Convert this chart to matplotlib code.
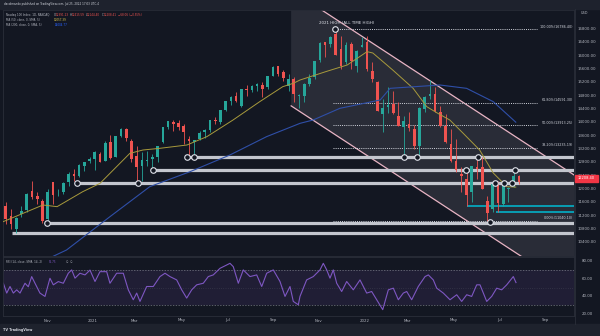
import matplotlib
matplotlib.use("Agg")
import matplotlib.pyplot as plt
import matplotlib.transforms as mtransforms
from matplotlib.patches import Rectangle, Polygon

# weekly candles, week 0 = week of Jan 4 2021
weeks = list(range(-18, 82))
opens = [12150, 11500, 11200, 10800, 11250, 11380, 11950, 11800, 11650, 11100,
         12200, 11850, 11900, 12200, 12450, 12400, 12700, 12830, 12900, 13050,
         12850, 13400, 12950, 13600, 13810, 13450, 13000, 12700, 12850, 12900,
         12950, 13400, 13850, 14000, 13990, 13900, 13500, 13400, 13500, 13720,
         13780, 14080, 14000, 14380, 14650, 14780, 14500, 15010, 14980, 15090,
         15130, 15050, 15400, 15680, 15500, 15100, 15300, 14800, 14780, 15150,
         15350, 15870, 16400, 16350, 16650, 16200, 15800, 16350, 15700, 16250,
         16400, 15550, 15200, 14250, 14450, 14550, 14200, 13850, 13950, 13800,
         13300, 14400, 14780, 14850, 14300, 13900, 13350, 12850, 12450, 12300,
         11900, 12650, 12650, 11650, 11400, 12150, 11550, 12000, 12150, 12391.23]
highs = [12440, 11600, 11400, 11150, 11500, 11880, 12250, 11920, 11700, 12000,
         12200, 12000, 12200, 12500, 12600, 12750, 12820, 12960, 13150, 13100,
         13450, 13620, 13600, 13830, 13820, 13500, 13300, 13100, 13150, 13050,
         13300, 13850, 14050, 14080, 14070, 13950, 13600, 13480, 13750, 13800,
         14070, 14170, 14380, 14650, 14780, 14900, 15000, 15110, 15130, 15190,
         15200, 15380, 15700, 15700, 15560, 15450, 15350, 14850, 15170, 15450,
         15850, 16420, 16420, 16600, 16786, 16600, 16400, 16400, 16160, 16570,
         16580, 15800, 15250, 14700, 15060, 14950, 14600, 14200, 14300, 13920,
         14450, 14800, 15270, 15050, 14500, 14250, 13800, 13500, 12650, 12580,
         12700, 12960, 12950, 11800, 12200, 12250, 12150, 12050, 12570, 12415.59]
lows = [11500, 10950, 10800, 10680, 11170, 11300, 11700, 11550, 10970, 11050,
        11550, 11780, 11850, 12100, 12250, 12370, 12550, 12780, 12570, 12800,
        12850, 12900, 12950, 13550, 13450, 12800, 12190, 12250, 12700, 12600,
        12800, 13380, 13800, 13750, 13780, 13350, 12970, 13050, 13480, 13520,
        13720, 13950, 13950, 14350, 14520, 14600, 14450, 14800, 14900, 14950,
        14760, 15000, 15380, 15400, 15250, 14950, 14600, 14440, 14600, 15100,
        15300, 15800, 15950, 16250, 16030, 15600, 15750, 15600, 15520, 16250,
        15550, 15200, 14340, 13720, 14280, 14250, 13880, 12990, 13730, 13200,
        12990, 14300, 14700, 14300, 13850, 13380, 12800, 12500, 11900, 11500,
        11600, 12300, 12000, 11040, 11300, 11300, 11480, 11600, 12050, 12144.40]
closes = [11620, 11090, 10940, 11140, 11330, 11850, 11760, 11700, 11050, 11900,
          11830, 11860, 12180, 12460, 12380, 12720, 12800, 12890, 13100, 12800,
          13370, 12930, 13580, 13800, 13520, 12910, 12670, 12870, 12850, 12950,
          13280, 13850, 14040, 13960, 13860, 13720, 13430, 13470, 13690, 13770,
          14070, 14030, 14360, 14640, 14760, 14650, 15000, 14960, 15100, 15150,
          15000, 15380, 15650, 15460, 15330, 15300, 14850, 14800, 15150, 15330,
          15850, 16390, 16330, 16570, 16030, 15700, 16330, 15850, 16150, 16320,
          15590, 15310, 14340, 14440, 14520, 14270, 13900, 14040, 13840, 13300,
          14420, 14760, 14860, 14350, 13900, 13400, 12850, 12580, 12400, 11830,
          12680, 12600, 12010, 11270, 12140, 11580, 12130, 12040, 12400, 12208.41]

# moving averages (week, value)
ma50_w = [-17.1, -9.5, -6.8, -1.9, 1.4, 7.1, 9.6, 12.8, 18.0, 21.8, 26.8, 31.9, 36.3,
          38.3, 39.6, 44.7, 48.6, 52.4, 53.5, 57.3, 61.2, 63.8, 65.8, 68.2, 70.7,
          73.9, 76.5, 79.1, 80.8]
ma50_v = [11020, 11520, 11470, 11920, 12170, 13070, 13170, 13220, 13320, 13570, 14070,
          14620, 15070, 15170, 15270, 15530, 15720, 16120, 16080, 15570, 15020, 14470,
          14280, 14070, 13680, 13170, 12480, 12070, 12057.39]
ma200_w = [-17.1, -10.0, -5.0, 3.3, 10.9, 18.6, 26.2, 33.2, 39.6, 42.1, 47.2, 54.9,
           56.8, 66.3, 71.4, 76.5, 80.8]
ma200_v = [9500, 9800, 10170, 11170, 12070, 12520, 13020, 13570, 13970, 14070, 14420,
           14670, 15020, 15120, 15020, 14620, 14004.77]

# RSI (14)
rsi_w = [-17.07, -16.42, -15.79, -15.16, -14.51, -13.88, -12.93, -12.30, -11.65, -11.02,
         -10.07, -9.11, -8.16, -7.52, -6.57, -5.61, -4.66, -4.01, -3.38, -2.43,
         -1.47, -0.52, 0.44, 1.39, 2.67, 3.30, 4.58, 5.84, 6.80, 7.75,
         8.40, 9.03, 10.31, 11.57, 12.85, 13.81, 14.76, 16.04, 17.00, 17.95,
         18.91, 19.86, 21.12, 22.08, 23.03, 24.31, 25.59, 26.22, 26.85, 27.81,
         28.76, 30.04, 31.32, 32.28, 33.23, 34.49, 35.77, 36.73, 37.68, 38.31,
         39.27, 39.59, 40.86, 42.13, 43.41, 44.04, 44.69, 45.32, 45.95, 46.60,
         47.55, 48.51, 49.77, 51.05, 52.33, 53.28, 54.24, 55.39, 56.46, 57.41,
         58.37, 59.32, 59.97, 60.92, 62.18, 63.47, 64.10, 65.05, 65.70, 66.96,
         68.24, 69.52, 70.47, 71.43, 72.38, 73.34, 73.97, 75.25, 76.20, 77.16,
         78.11, 79.07, 80.33, 80.84]
rsi_v = [55.1, 43.8, 51.3, 43.8, 47.5, 43.8, 55.0, 51.0, 62.6, 55.0,
         43.8, 40.0, 60.7, 53.2, 56.9, 55.0, 66.4, 70.2, 60.8, 66.4,
         64.5, 70.0, 57.0, 68.2, 68.2, 55.0, 66.4, 66.4, 47.5, 36.2,
         43.8, 34.3, 51.3, 51.3, 62.6, 66.4, 62.6, 58.8, 47.5, 38.1,
         47.5, 53.2, 55.0, 62.6, 64.5, 72.0, 75.8, 77.7, 73.9, 55.0,
         70.2, 62.6, 64.5, 51.3, 66.4, 70.2, 57.0, 40.0, 51.3, 34.3,
         30.5, 40.0, 58.8, 62.6, 70.2, 77.7, 70.2, 60.8, 70.2, 55.0,
         45.6, 57.0, 47.5, 58.8, 43.8, 45.6, 36.2, 24.9, 47.5, 49.4,
         36.2, 43.8, 45.6, 36.2, 51.3, 62.6, 64.5, 58.8, 49.4, 43.8,
         36.2, 41.9, 34.3, 41.9, 40.0, 53.2, 53.2, 34.3, 40.0, 49.4,
         47.5, 53.2, 62.6, 55.75]

# drawings
support_levels = [12970, 12570, 12190, 10970, 10680]
support_start = [18.1, 11.5, -3.0, -8.7, -15.4]
fib_levels = [16786.40, 14591.30, 13913.25, 13235.19, 11040.10]
fib_names = ["100.00%", "61.80%", "50.00%", "38.20%", "0.00%"]
circle_w = [-8.7, -3.0, 8.6, 11.5, 18.1, 19.3, 59.5, 62.0, 73.6, 71.3, 80.6,
            76.8, 78.5, 80.1, 75.9, 46.3]
circle_v = [10970, 12190, 12190, 12570, 12970, 12970, 12970, 12970, 12970, 12570,
            12570, 12190, 12190, 12190, 11000, 16786.40]
month_w = [-8.7, 0, 7.9, 17.0, 25.7, 34.5, 43.2, 52.0, 60.1, 69.0, 77.7, 86.5]
month_names = ["Nov", "2021", "Mar", "May", "Jul", "Sep", "Nov", "2022", "Mar",
               "May", "Jul", "Sep"]

BG = "#131722"
BAR = "#1e222d"
TXT = "#b2b5be"
UP = "#26a69a"
DN = "#ef5350"

fig = plt.figure(figsize=(6, 3.36), dpi=100)
fig.patch.set_facecolor(BG)


def fx(px):
    return px / 600


def fy(py):
    return 1 - py / 336


fig.patches.append(Rectangle((0, fy(9)), 1, 9 / 336, transform=fig.transFigure,
                             color=BAR, zorder=0))
fig.patches.append(Rectangle((0, 0), 1, 12 / 336, transform=fig.transFigure,
                             color=BAR, zorder=0))

ax = fig.add_axes([fx(3), fy(256), 571 / 600, 246 / 336])
rax = fig.add_axes([fx(3), fy(316), 571 / 600, 59 / 336])
XMIN, XMAX = -17.13, 91.92
for a in (ax, rax):
    a.set_facecolor(BG)
    a.set_xlim(XMIN, XMAX)
    a.set_xticks([])
    a.set_yticks([])
    for s in a.spines.values():
        s.set_color("#2a2e39")
        s.set_linewidth(0.6)
ax.set_ylim(9990, 17370)
rax.set_ylim(17.7, 84.9)

# channel
ch_x = [37.9, 37.9, 95, 95]
ch_y = [17970, 14494, 8630, 12106]
ax.add_patch(Polygon(list(zip(ch_x, ch_y)), closed=True, facecolor="#787b86",
                     alpha=0.22, edgecolor="none", zorder=1))
ax.plot([37.9, 95], [17970, 12106], color="#e8b4c4", lw=0.9, zorder=2)
ax.plot([37.9, 95], [14494, 8630], color="#e8b4c4", lw=0.9, zorder=2)

# support lines
ax.hlines(support_levels, support_start, XMAX, colors="#c3c6ce", lw=2.3, zorder=3)
ax.hlines([11490, 11300], [71.5, 77.0], XMAX, colors="#00bcd4", lw=1.1, zorder=3)

# fib retracement
ax.hlines(fib_levels, 45.9, 84.9, colors="#d1d4dc", lw=0.7, linestyles=(0, (1, 1.2)),
          zorder=3)
for lv, nm in zip(fib_levels, fib_names):
    ax.text(91.7, lv + 80, "%s(%.2f)" % (nm, lv), color="#d1d4dc", fontsize=2.4,
            ha="right", va="center", zorder=6)

# candles
for w, o, h, l, c in zip(weeks, opens, highs, lows, closes):
    col = UP if c >= o else DN
    x = w + 0.4
    ax.vlines(x, l, h, colors=col, lw=0.6, zorder=4)
    ax.add_patch(Rectangle((x - 0.25, min(o, c)), 0.5, max(abs(c - o), 15),
                           facecolor=col, edgecolor="none", zorder=4))

ax.plot(ma50_w, ma50_v, color="#a89a3c", lw=0.7, zorder=5)
ax.plot(ma200_w, ma200_v, color="#2f4fa8", lw=0.8, zorder=5)

ax.plot(circle_w, circle_v, "o", ms=4.0, mfc=BG, mec="#e0e3eb", mew=0.8, zorder=7)
ax.text(48.6, 16990, "2021 HIGH (ALL TIME HIGH)", color="#e0e3eb", fontsize=2.9,
        ha="center", va="center", zorder=7)

# RSI pane
rax.axhspan(30, 70, color="#7e57c2", alpha=0.12, lw=0)
rax.axhline(70, color="#787b86", lw=0.5, ls=(0, (2, 2)))
rax.axhline(30, color="#787b86", lw=0.5, ls=(0, (2, 2)))
rax.axhline(50, color="#787b86", lw=0.4, ls=(0, (1, 3)), alpha=0.6)
rax.plot(rsi_w, rsi_v, color="#7e57c2", lw=0.8)

# price scale
ptr = mtransforms.blended_transform_factory(fig.transFigure, ax.transData)
for p in range(10400, 17000, 400):
    ax.text(fx(587), p, "%.2f" % p, transform=ptr, color=TXT, fontsize=2.8,
            ha="center", va="center", clip_on=False)
fig.text(fx(581), fy(13), "USD", color=TXT, fontsize=2.5, ha="left", va="center")
rtr = mtransforms.blended_transform_factory(fig.transFigure, rax.transData)
for p in [80, 60, 40, 20]:
    rax.text(fx(587), p, "%.2f" % p, transform=rtr, color=TXT, fontsize=2.8,
             ha="center", va="center", clip_on=False)
fig.patches.append(Rectangle((fx(575), fy(181.5)), 23 / 600, 6.5 / 336,
                             transform=fig.transFigure, color="#f23645", zorder=5))
fig.text(fx(586.5), fy(178.2), "12208.40", color="white", fontsize=2.6,
         ha="center", va="center", zorder=6)
fig.add_artist(plt.Line2D([fx(574.5), fx(574.5)], [fy(324), fy(9)],
                          transform=fig.transFigure, color="#2a2e39", lw=0.6))

# time scale
ttr = mtransforms.blended_transform_factory(rax.transData, fig.transFigure)
for w, nm in zip(month_w, month_names):
    rax.text(w, fy(320.5), nm, transform=ttr, color=TXT, fontsize=2.8,
             ha="center", va="center", clip_on=False)

# header texts
fig.text(fx(3.5), fy(4.5), "dacolmando published on TradingView.com, Jul 25, 2022 17:03 UTC-4",
         color="#d1d4dc", fontsize=2.0, ha="left", va="center")
fig.text(fx(6.5), fy(14.7), "Nasdaq 100 Index, 1D, NASDAQ", color=TXT, fontsize=2.0,
         ha="left", va="center")
ohlc = [(54.3, "O", "12391.23"), (69.5, "H", "12415.59"), (85.3, "L", "12144.40"),
        (101.7, "C", "12208.41")]
for x, k, v in ohlc:
    fig.text(fx(x), fy(14.7), k, color=TXT, fontsize=2.0, ha="left", va="center")
    fig.text(fx(x + 1.8), fy(14.7), v, color=DN, fontsize=2.0, ha="left", va="center")
fig.text(fx(118.3), fy(14.7), "\u221268.06 (\u22120.55%)", color=DN, fontsize=2.0,
         ha="left", va="center")
fig.text(fx(6.5), fy(19.8), "MA (50, close, 0, SMA, 5)", color=TXT, fontsize=2.0,
         ha="left", va="center")
fig.text(fx(53.3), fy(19.8), "12057.39", color="#d8c24a", fontsize=2.0, ha="left",
         va="center")
fig.text(fx(6.5), fy(25), "MA (200, close, 0, SMA, 5)", color=TXT, fontsize=2.0,
         ha="left", va="center")
fig.text(fx(54.3), fy(25), "14004.77", color="#2962ff", fontsize=2.0, ha="left",
         va="center")
fig.text(fx(6), fy(262), "RSI (14, close, SMA, 14, 2)", color=TXT, fontsize=2.0,
         ha="left", va="center")
fig.text(fx(49.3), fy(262), "55.75", color="#7e57c2", fontsize=2.0, ha="left",
         va="center")
fig.text(fx(66), fy(262), "\u2205  \u2205", color=TXT, fontsize=2.0, ha="left",
         va="center")
fig.text(fx(3), fy(330.5), "TV TradingView", color="#d1d4dc", fontsize=2.4,
         fontweight="bold", ha="left", va="center")

fig.savefig("out.png", dpi=100, facecolor=BG)
